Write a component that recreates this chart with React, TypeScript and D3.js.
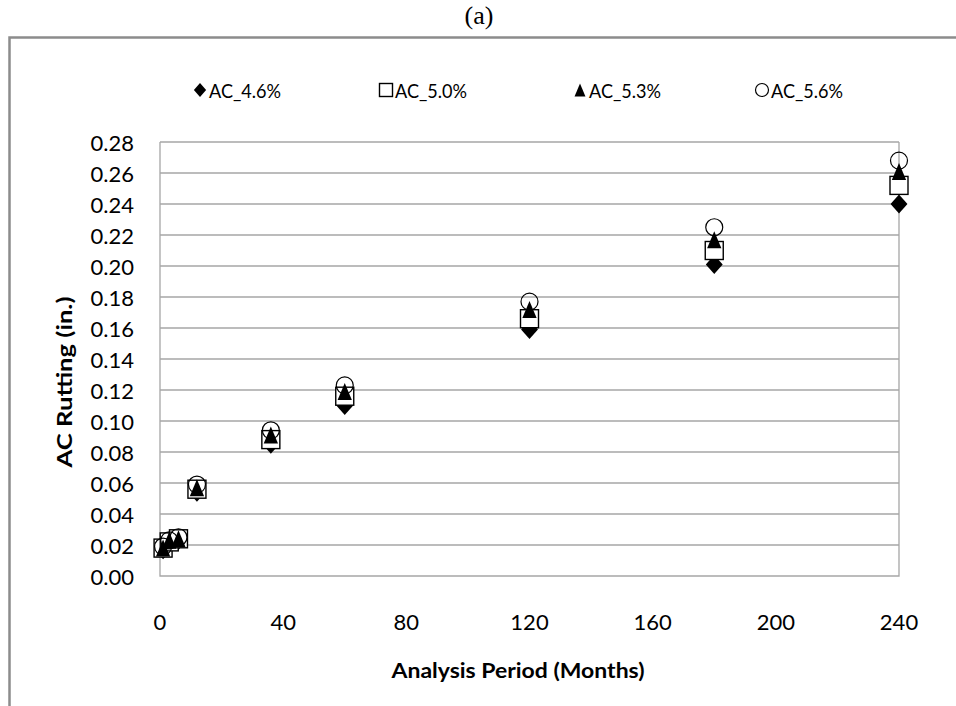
import React from "react";
import * as d3 from "d3";

const months = [1, 3, 6, 12, 36, 60, 120, 180, 240];
const ac46 = [0.017, 0.021, 0.023, 0.054, 0.085, 0.110, 0.159, 0.201, 0.240];
const ac50 = [0.018, 0.022, 0.024, 0.056, 0.088, 0.116, 0.166, 0.210, 0.252];
const ac53 = [0.018, 0.023, 0.024, 0.057, 0.091, 0.119, 0.172, 0.217, 0.261];
const ac56 = [0.019, 0.023, 0.025, 0.059, 0.094, 0.123, 0.177, 0.225, 0.268];
const seriesNames = ["AC_4.6%", "AC_5.0%", "AC_5.3%", "AC_5.6%"];
const xTicks = [0, 40, 80, 120, 160, 200, 240];
const yTicks = [0, 0.02, 0.04, 0.06, 0.08, 0.1, 0.12, 0.14, 0.16, 0.18, 0.2, 0.22, 0.24, 0.26, 0.28];

const W = 956, H = 706;
const left = 160, right = 899, top = 142, bottom = 576;
const FONT = "Lato, 'Open Sans', sans-serif";
const GRID = "#a6a6a6";

function marker(kind: string, x: number, y: number, s: number, key: string) {
  if (kind === "diamond") {
    const hw = s * 0.47, hh = s * 0.53;
    return <path key={key} d={`M${x},${y - hh}L${x + hw},${y}L${x},${y + hh}L${x - hw},${y}Z`} fill="#000" />;
  }
  if (kind === "square") {
    const h = s / 2;
    return <rect key={key} x={x - h} y={y - h} width={s} height={s} fill="#fff" stroke="#000" strokeWidth={1.4} />;
  }
  if (kind === "triangle") {
    const hw = s * 0.42, hh = s * 0.5;
    return <path key={key} d={`M${x},${y - hh}L${x + hw},${y + hh}L${x - hw},${y + hh}Z`} fill="#000" />;
  }
  return <circle key={key} cx={x} cy={y} r={s / 2} fill="none" stroke="#000" strokeWidth={1.2} />;
}

export default function App() {
  const x = d3.scaleLinear().domain([0, 240]).range([left, right]);
  const y = d3.scaleLinear().domain([0, 0.28]).range([bottom, top]);
  const fmt = d3.format(".2f");
  const series = [
    { kind: "diamond", vals: ac46, size: 18 },
    { kind: "square", vals: ac50, size: 18 },
    { kind: "triangle", vals: ac53, size: 17 },
    { kind: "circle", vals: ac56, size: 17 },
  ];
  const legendX = [200, 386, 580, 762];
  const legendY = 90;

  return (
    <svg width={W} height={H} style={{ position: "absolute", left: 0, top: 0, background: "#fff" }}>
      <rect x={0} y={0} width={W} height={H} fill="#fff" />
      <text x={479} y={15} textAnchor="middle" dominantBaseline="central" fontFamily="'Liberation Serif', 'Times New Roman', serif" fontSize={26}>(a)</text>
      <path d={`M${9.5},${H}V${37.5}H${W}`} fill="none" stroke="#8c8c8c" strokeWidth={2.5} />

      {/* legend */}
      {seriesNames.map((n, i) => (
        <g key={n}>
          {marker(series[i].kind, legendX[i], legendY, 13, "lm" + i)}
          <text x={legendX[i] + 9} y={legendY} dominantBaseline="central" fontFamily={FONT} fontSize={20} textLength={72} lengthAdjust="spacingAndGlyphs" fill="#000">{n}</text>
        </g>
      ))}

      {/* gridlines */}
      {yTicks.filter((t) => t > 0).map((t) => (
        <line key={"g" + t} x1={left} x2={right} y1={y(t)} y2={y(t)} stroke={GRID} strokeWidth={1.3} />
      ))}
      <path d={`M${left},${top}V${bottom}H${right}V${top}`} fill="none" stroke={GRID} strokeWidth={1.3} />

      {/* y ticks */}
      {yTicks.map((t) => (
        <text key={"yt" + t} x={134} y={y(t)} textAnchor="end" dominantBaseline="central" fontFamily={FONT} fontSize={22} fill="#000">{fmt(t)}</text>
      ))}
      {/* x ticks */}
      {xTicks.map((t) => (
        <text key={"xt" + t} x={x(t)} y={621} textAnchor="middle" dominantBaseline="central" fontFamily={FONT} fontSize={22} fill="#000">{t}</text>
      ))}

      <text x={518} y={669} textAnchor="middle" dominantBaseline="central" fontFamily={FONT} fontWeight="bold" fontSize={21} textLength={253} lengthAdjust="spacingAndGlyphs">Analysis Period (Months)</text>
      <text transform={`translate(63,382) rotate(-90)`} textAnchor="middle" dominantBaseline="central" fontFamily={FONT} fontWeight="bold" fontSize={21} textLength={171} lengthAdjust="spacingAndGlyphs">AC Rutting (in.)</text>

      {/* data */}
      {series.map((s, si) => (
        <g key={"s" + si}>
          {months.map((m, i) => marker(s.kind, x(m), y(s.vals[i]), s.size, `p${si}-${i}`))}
        </g>
      ))}
    </svg>
  );
}
